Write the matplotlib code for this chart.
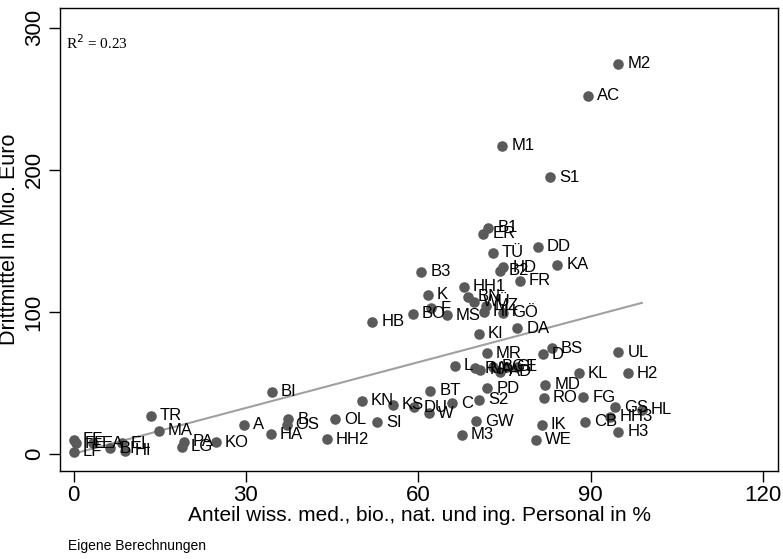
import matplotlib
matplotlib.use("Agg")
import matplotlib.pyplot as plt
import numpy as np

labels = ["M2", "AC", "M1", "S1", "B1", "ER", "TÜ", "DD", "HD", "B2", "FR", "KA",
          "B3", "K", "HH1", "BN", "WÜ", "MZ", "HH", "GÖ", "F", "BO", "MS", "HB",
          "KI", "DA", "MR", "D", "BS", "L", "RA", "NA", "BG", "AD", "GI", "E",
          "PD", "BT", "C", "S2", "GW", "M3", "MD", "RO", "KL", "FG", "IK", "WE",
          "CB", "UL", "H2", "GS", "HL", "HH3", "H3", "KN", "KS", "DU", "W", "BI",
          "B", "OS", "HA", "OL", "SI", "HH2", "A", "TR", "MA", "PA", "LG", "KO",
          "FF", "FE", "LF", "EA", "BF", "EL", "HI"]
anteil = [94.8, 89.5, 74.6, 82.9, 72.2, 71.3, 73.0, 80.8, 74.8, 74.2, 77.7, 84.2,
          60.5, 61.7, 67.9, 68.7, 69.7, 71.8, 71.4, 74.8, 62.3, 59.0, 65.0, 52.0,
          70.5, 77.2, 71.9, 81.7, 83.2, 66.4, 69.9, 70.8, 73.0, 74.2, 75.4, 77.1,
          72.0, 62.1, 65.8, 70.6, 70.1, 67.6, 82.1, 81.8, 87.9, 88.7, 81.5, 80.5,
          89.0, 94.8, 96.5, 94.3, 98.9, 93.4, 94.8, 50.2, 55.6, 59.3, 61.9, 34.5,
          37.4, 37.1, 34.3, 45.5, 52.8, 44.1, 29.6, 13.4, 14.8, 19.2, 18.8, 24.8,
          0.0, 0.4, 0.0, 3.4, 6.4, 8.4, 9.0]
drittmittel = [274.6, 252.3, 216.9, 195.0, 159.2, 154.9, 141.5, 145.8, 131.3, 128.9, 121.8, 133.1,
               128.4, 112.0, 117.8, 110.6, 107.0, 104.2, 100.0, 99.3, 102.6, 98.6, 97.5, 93.0,
               84.5, 88.5, 70.9, 70.2, 74.4, 62.2, 60.4, 59.2, 61.5, 58.0, 61.5, 61.5,
               46.3, 44.6, 35.7, 38.0, 23.2, 13.4, 48.6, 39.6, 56.8, 39.9, 20.4, 9.9,
               22.7, 71.6, 56.8, 32.9, 31.0, 26.3, 15.7, 37.5, 34.5, 32.9, 28.7, 43.9,
               24.4, 20.4, 13.9, 24.6, 22.3, 10.4, 20.4, 27.0, 16.4, 8.7, 5.1, 8.2,
               9.9, 7.7, 1.4, 7.5, 4.0, 7.4, 2.3]

xticks = [0, 30, 60, 90, 120]
yticks = [0, 100, 200, 300]
r2_text = "R$^2$ = 0.23"

x = np.array(anteil)
y = np.array(drittmittel)

fig = plt.figure(figsize=(7.83, 5.59), dpi=100)
ax = fig.add_axes([60/783, 88/559, 718/783, 463/559])
ax.scatter(x, y, s=58, color="#5a5a5a", zorder=3, linewidths=0)
for lab, xi, yi in zip(labels, x, y):
    ax.annotate(lab, (xi, yi), xytext=(6.5, 0), textcoords="offset points",
                ha="left", va="center", fontsize=12, family="Liberation Sans",
                color="black", zorder=4)

slope, intercept = np.polyfit(x, y, 1)
xs = np.array([x.min(), x.max()])
ax.plot(xs, intercept + slope * xs, color="#a0a0a0", lw=1.5, zorder=2)

ax.set_xlim(-2.35, 122.6)
ax.set_ylim(-12, 314)
ax.set_xticks(xticks)
ax.set_yticks(yticks)
ax.set_xticklabels([str(t) for t in xticks], family="Liberation Sans", fontsize=16)
ax.set_yticklabels([str(t) for t in yticks], family="Liberation Sans", fontsize=16,
                   rotation=90, va="center")
ax.tick_params(axis="both", length=8, width=1, direction="out", color="black")
ax.tick_params(axis="x", pad=2)
ax.tick_params(axis="y", pad=3)
for sp in ax.spines.values():
    sp.set_linewidth(1.0)
ax.set_xlabel("Anteil wiss. med., bio., nat. und ing. Personal in %", family="Liberation Sans",
              fontsize=15, labelpad=0)
ax.set_ylabel("Drittmittel in Mio. Euro", family="Liberation Sans", fontsize=15.5,
              labelpad=3)
ax.text(0.008, 0.925, r2_text, transform=ax.transAxes, family="Liberation Serif",
        fontsize=11, va="center", ha="left")
fig.text(68/783, 1 - 546/559, "Eigene Berechnungen", family="Liberation Sans", fontsize=10,
         va="center", ha="left")
fig.savefig("out.png", dpi=100)
